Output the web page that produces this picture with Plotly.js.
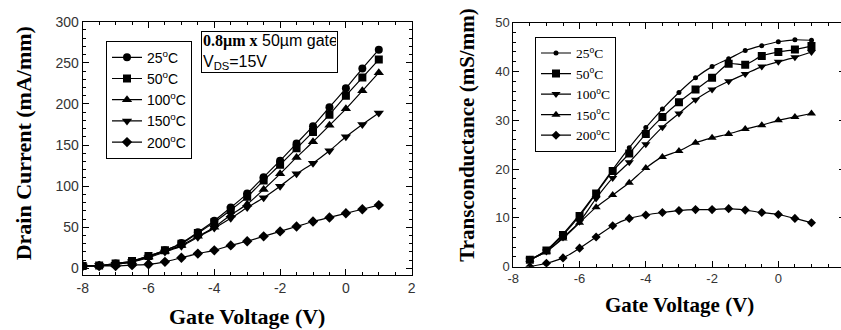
<!DOCTYPE html>
<html><head><meta charset="utf-8">
<script src="https://cdn.plot.ly/plotly-3.0.1.min.js"></script>
<style>html,body{margin:0;padding:0;overflow:hidden;background:#fff;width:841px;height:330px}</style>
</head><body><div id="chart" style="width:846px;height:330px"></div>
<script>
// ---- data ----
const vgLeft = [-8,-7.5,-7,-6.5,-6,-5.5,-5,-4.5,-4,-3.5,-3,-2.5,-2,-1.5,-1,-0.5,0,0.5,1];
const id25  = [3, 3.5, 6, 9, 15, 22, 31, 44, 58, 74, 91, 111, 131, 152, 173, 196, 219, 243, 266];
const id50  = [3, 3.5, 6, 9, 15, 22, 30, 43, 56, 71, 87, 107, 126, 146, 166, 187, 210, 232, 254];
const id100 = [3, 3.5, 5, 8, 14, 21, 28, 39, 50, 65, 78, 96, 115, 135, 154, 174, 194, 216, 238];
const id150 = [3, 3.5, 5, 8, 13, 20, 27, 38, 49, 61, 74, 86, 100, 115, 128, 143, 160, 175, 189];
const id200 = [3, 3, 3, 4, 5, 8, 13, 18, 22, 28, 33, 39, 45, 51, 57, 62, 67, 72, 77];

const vgRight = [-7.5,-7,-6.5,-6,-5.5,-5,-4.5,-4,-3.5,-3,-2.5,-2,-1.5,-1,-0.5,0,0.5,1];
const gm25  = [1.4, 3.4, 6.7, 10.7, 15.2, 19.9, 24.4, 28.5, 32.3, 35.7, 38.7, 41, 42.6, 44.3, 45.3, 46.1, 46.5, 46.4];
const gm50  = [1.4, 3.3, 6.5, 10.4, 15, 19.6, 23.2, 27.2, 30.7, 33.7, 36.3, 38.7, 41.6, 41.4, 43.2, 44, 44.5, 45.2];
const gm100 = [1.4, 3.1, 6, 9.2, 14, 18.2, 21.4, 25.1, 28.6, 31.4, 34.2, 36.3, 38, 39.5, 41, 42, 42.9, 44];
const gm150 = [1.4, 3.1, 5.8, 9, 12.2, 14.7, 17.2, 20.2, 22.5, 23.7, 25.4, 26.4, 27.2, 28.2, 29, 30, 30.7, 31.4];
const gm200 = [0, 0.7, 1.8, 3.8, 6.1, 8.4, 9.9, 10.6, 11.1, 11.5, 11.7, 11.7, 11.9, 11.6, 11.1, 10.7, 9.9, 9];

const leftNames  = ['25<sup>o</sup>C','50<sup>o</sup>C','100<sup>o</sup>C','150<sup>o</sup>C','200<sup>o</sup>C'];
const rightNames = ['25<sup>o</sup>C','50<sup>o</sup>C','100<sup>o</sup>C','150<sup>o</sup>C','200<sup>o</sup>C'];
const xTickVals = [-8,-6,-4,-2,0,2];
const xTickText = ['-8','-6','-4','-2','0','2'];
const xTickValsR = [-8,-6,-4,-2,0];
const xTickTextR = ['-8','-6','-4','-2','0'];

// ---- geometry helpers (page is 846 x 330, margins 0) ----
const W = 846, H = 330;
const px = v => v / W;
const py = v => 1 - v / H;

const leftSeries  = [id25, id50, id100, id150, id200];
const leftSyms    = ['circle','square','triangle-up','triangle-down','diamond'];
const leftSizes   = [8, 8, 9, 9, 8];
const rightSeries = [gm25, gm50, gm100, gm150, gm200];
const rightSyms   = ['circle','square','triangle-down','triangle-up','diamond'];
const rightSizes  = [5, 8, 8, 8, 7];

const traces = [];
leftSeries.forEach((ys, i) => traces.push({
  x: vgLeft, y: ys, name: leftNames[i], type: 'scatter', mode: 'lines+markers',
  xaxis: 'x', yaxis: 'y', legend: 'legend',
  line: {color: '#000', width: 1.2, shape: 'spline', smoothing: 0.6},
  marker: {symbol: leftSyms[i], size: leftSizes[i], color: '#000'}
}));
rightSeries.forEach((ys, i) => traces.push({
  x: vgRight, y: ys, name: rightNames[i], type: 'scatter', mode: 'lines+markers',
  xaxis: 'x2', yaxis: 'y2', legend: 'legend2',
  line: {color: '#000', width: 1.2, shape: 'spline', smoothing: 0.6},
  marker: {symbol: rightSyms[i], size: rightSizes[i], color: '#000'}
}));

const tickFontL = {family: 'Liberation Sans, Arial, sans-serif', size: 14, color: '#333'};
const tickFontR = {family: 'Liberation Sans, Arial, sans-serif', size: 13, color: '#333'};
const axBase = {
  showline: true, linecolor: '#000', linewidth: 1, mirror: 'ticks',
  ticks: 'inside', ticklen: 6, tickcolor: '#000', tickwidth: 1,
  showgrid: false, zeroline: false, fixedrange: true
};

const titleFont = (s) => ({family: 'Liberation Serif, Times New Roman, serif', size: s, color: '#000'});

const layout = {
  width: W, height: H,
  margin: {l: 0, r: 0, t: 0, b: 0},
  paper_bgcolor: '#fff', plot_bgcolor: '#fff',
  showlegend: true,
  xaxis: Object.assign({}, axBase, {
    domain: [px(82.7), px(411.7)], range: [-8, 2], anchor: 'y',
    tickmode: 'array', tickvals: xTickVals, ticktext: xTickText, tickfont: tickFontL,
    minor: {tickmode: 'linear', tick0: -8, dtick: 0.5, ticks: 'inside', ticklen: 3, tickcolor: '#000', showgrid: false}
  }),
  yaxis: Object.assign({}, axBase, {
    domain: [py(275), py(21.7)], range: [-8, 300], anchor: 'x',
    tickmode: 'linear', tick0: 0, dtick: 50, tickfont: tickFontL,
    minor: {tickmode: 'linear', tick0: 0, dtick: 10, ticks: 'inside', ticklen: 3, tickcolor: '#000', showgrid: false}
  }),
  xaxis2: Object.assign({}, axBase, {
    domain: [px(513.3), px(844.6)], range: [-8, 2], anchor: 'y2',
    tickmode: 'array', tickvals: xTickValsR, ticktext: xTickTextR, tickfont: tickFontR,
    minor: {tickmode: 'linear', tick0: -8, dtick: 0.5, ticks: 'inside', ticklen: 3, tickcolor: '#000', showgrid: false}
  }),
  yaxis2: Object.assign({}, axBase, {
    domain: [py(266.7), py(22.7)], range: [0, 50], anchor: 'x2',
    tickmode: 'linear', tick0: 0, dtick: 10, tickfont: tickFontR,
    minor: {tickmode: 'linear', tick0: 0, dtick: 2, ticks: 'inside', ticklen: 3, tickcolor: '#000', showgrid: false}
  }),
  legend: {
    x: px(106), y: py(40.7), xanchor: 'left', yanchor: 'top',
    bordercolor: '#000', borderwidth: 1, bgcolor: '#fff', tracegroupgap: 0,
    font: {family: 'Liberation Sans, Arial, sans-serif', size: 14, color: '#000'}
  },
  legend2: {
    x: px(535), y: py(36.7), xanchor: 'left', yanchor: 'top',
    bordercolor: '#000', borderwidth: 1, bgcolor: '#fff', tracegroupgap: 0,
    font: {family: 'Liberation Serif, Times New Roman, serif', size: 13.5, color: '#000'}
  },
  annotations: [
    {xref: 'paper', yref: 'paper', x: px(247), y: py(316.7), xanchor: 'center', yanchor: 'middle',
     text: '<b>Gate Voltage (V)</b>', showarrow: false, font: titleFont(22)},
    {xref: 'paper', yref: 'paper', x: px(23.3), y: py(143), xanchor: 'center', yanchor: 'middle',
     text: '<b>Drain Current (mA/mm)</b>', showarrow: false, textangle: -90, font: titleFont(22)},
    {xref: 'paper', yref: 'paper', x: px(679), y: py(305), xanchor: 'center', yanchor: 'middle',
     text: '<b>Gate Voltage (V)</b>', showarrow: false, font: titleFont(21)},
    {xref: 'paper', yref: 'paper', x: px(466.7), y: py(135), xanchor: 'center', yanchor: 'middle',
     text: '<b>Transconductance (mS/mm)</b>', showarrow: false, textangle: -90, font: titleFont(21)},
    {xref: 'paper', yref: 'paper', x: px(200.7), y: py(30.7), xanchor: 'left', yanchor: 'top',
     text: '<span style="font-family:\'Liberation Serif\',serif"><b>0.8µm x</b></span> 50µm gate<br>V<sub>DS</sub>=15V',
     showarrow: false, align: 'left', width: 133, height: 38, valign: 'middle',
     bordercolor: '#000', borderwidth: 1, borderpad: 1, bgcolor: '#fff',
     font: {family: 'Liberation Sans, Arial, sans-serif', size: 16, color: '#000'}}
  ]
};

Plotly.newPlot('chart', traces, layout, {displayModeBar: false, staticPlot: true});
</script></body></html>
